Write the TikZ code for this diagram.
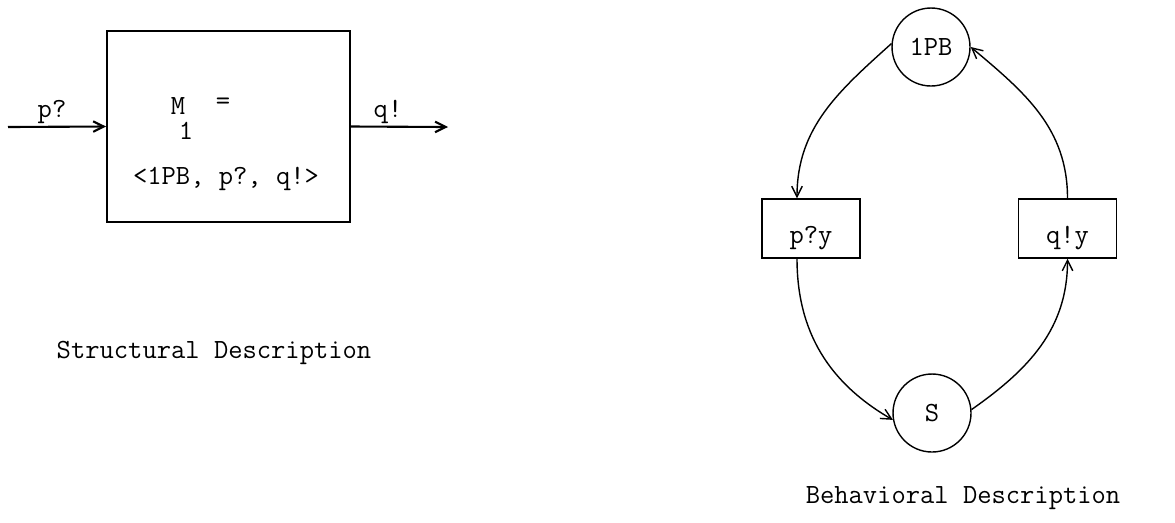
\documentclass[tikz,border=0pt]{standalone}
\usetikzlibrary{arrows.meta}

\begin{document}
\begin{tikzpicture}[x=0.02cm,y=0.02cm,
  font=\fontsize{15.8}{18}\selectfont\ttfamily,
  >={Straight Barb[length=6pt,width=6pt]},
  module/.style={draw,line width=1.1pt,minimum width=4.86cm,minimum height=3.82cm},
  state/.style={draw,circle,line width=0.8pt,minimum size=1.56cm,inner sep=0pt},
  event/.style={draw,line width=0.9pt,minimum width=1.96cm,inner sep=0pt,
    text height=25pt,text depth=8.5pt},
  wire/.style={->,line width=1.2pt},
  trans/.style={->,line width=0.8pt}]
\useasboundingbox (0,0) rectangle (1175,-522);

% structural description
\node[module] (m1) at (228.5,-126.5) {};
\node (mname) at (178,-106) {M};
\node (msub) at (186,-131) {1};
\node (meq) at (223,-104) {=};
\node (tuple) at (226,-179) {<1PB, p?, q!>};
\coordinate (src) at (8,-127);
\coordinate (sink) at (448,-127);
\draw[wire] (src) -- (m1.west);
\draw[wire] (m1.east) -- (sink);
\node (pin) at (52,-112) {p?};
\node (qout) at (388,-112) {q!};
\node (stitle) at (214,-353) {Structural Description};

% behavioral description
\node[state] (pb) at (931,-47) {1PB};
\node[state] (s) at (932,-413) {S};
\node[event] (py) at (811,-228.5) {p?y};
\node[event] (qy) at (1067.5,-228.5) {q!y};
\draw[trans] (pb.175) to[out=222,in=90] ([xshift=-0.28cm]py.north);
\draw[trans] ([xshift=-0.28cm]py.south) to[out=-90,in=150] (s.190);
\draw[trans] (s.5) to[out=35,in=-90] (qy.south);
\draw[trans] (qy.north) to[out=90,in=-40] (pb.0);
\node (btitle) at (963,-498) {Behavioral Description};
\end{tikzpicture}
\end{document}
